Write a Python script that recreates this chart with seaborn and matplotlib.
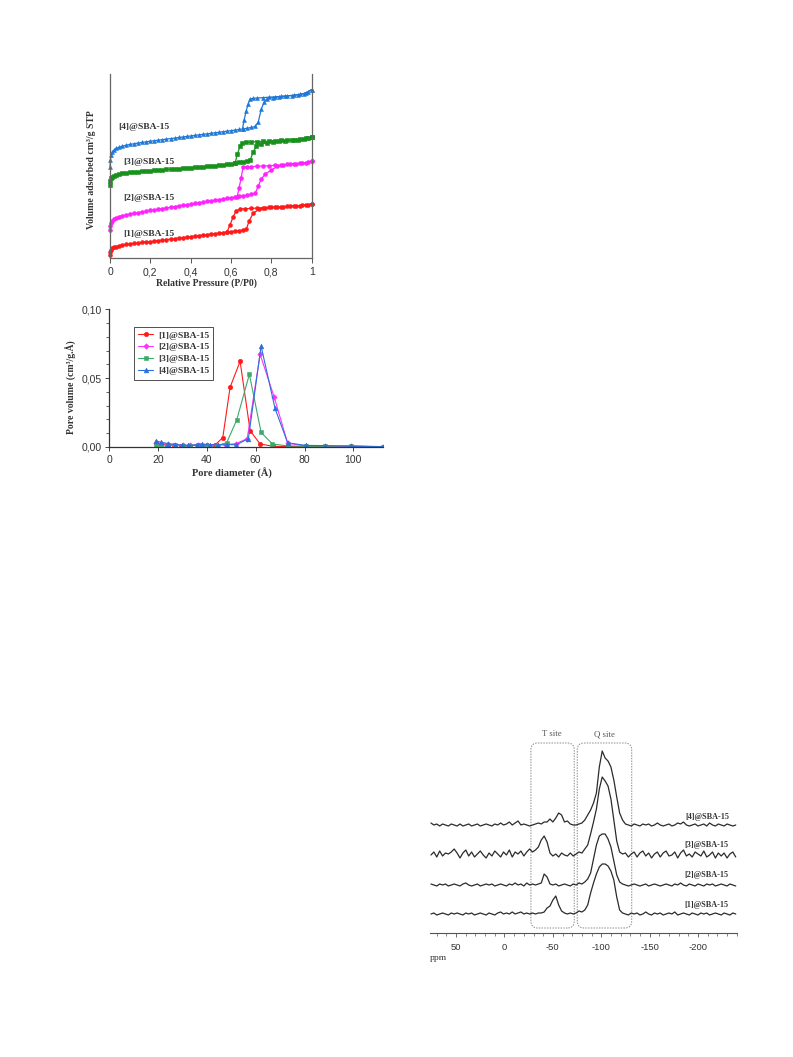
import numpy as np
import pandas as pd
import matplotlib
matplotlib.use("Agg")
import matplotlib.pyplot as plt
import seaborn as sns
from matplotlib.patches import FancyBboxPatch
from matplotlib.ticker import MultipleLocator

# ── Isotherms (N2 adsorption / desorption), volume in arbitrary stacked units ──
p_low = [0.0, 0.002, 0.006, 0.012, 0.02, 0.03, 0.045, 0.06, 0.08, 0.10, 0.12, 0.14,
         0.16, 0.18, 0.20, 0.22, 0.24, 0.26, 0.28, 0.30, 0.32, 0.34, 0.36, 0.38,
         0.40, 0.42, 0.44, 0.46, 0.48, 0.50, 0.52, 0.54, 0.56, 0.58, 0.60, 0.62,
         0.64, 0.66]

v1_low = [3, 6, 8, 9.5, 10.5, 11.3, 12.2, 12.8, 13.5, 14, 14.5, 15, 15.5, 16, 16.4,
          16.9, 17.4, 17.9, 18.4, 18.9, 19.4, 19.9, 20.4, 20.9, 21.4, 21.9, 22.4,
          22.9, 23.4, 23.9, 24.4, 24.9, 25.4, 25.9, 26.4, 26.9, 27.4, 27.9]
p1_hi = [0.675, 0.69, 0.71, 0.74, 0.77, 0.80, 0.83, 0.86, 0.89, 0.92, 0.95, 0.98, 1.0]
v1_hi = [28.6, 37, 45, 48.5, 50, 50.6, 51, 51.4, 51.8, 52.2, 52.6, 53.2, 54]
p1_des = [1.0, 0.97, 0.94, 0.91, 0.88, 0.85, 0.82, 0.79, 0.76, 0.73, 0.70, 0.67,
          0.645, 0.625, 0.61, 0.595, 0.58]
v1_des = [54, 52.8, 52.3, 51.9, 51.5, 51.1, 50.8, 50.5, 50.2, 49.9, 49.6, 49.3,
          49.0, 47, 41, 33, 26]

v2_low = [28, 32, 35, 37, 38.7, 40, 41.3, 42.2, 43.2, 44, 44.7, 45.4, 46.1, 46.8,
          47.5, 48.1, 48.8, 49.4, 50.1, 50.7, 51.3, 52.0, 52.6, 53.3, 53.9, 54.5,
          55.2, 55.8, 56.5, 57.1, 57.7, 58.4, 59.0, 59.7, 60.3, 60.9, 61.6, 62.2]
p2_hi = [0.68, 0.70, 0.72, 0.735, 0.75, 0.77, 0.80, 0.83, 0.86, 0.89, 0.92, 0.95, 0.98, 1.0]
v2_hi = [62.9, 63.5, 64.5, 72, 79, 84, 88, 91.5, 93, 93.6, 94.2, 94.8, 95.6, 96.5]
p2_des = [1.0, 0.97, 0.94, 0.91, 0.88, 0.85, 0.82, 0.79, 0.76, 0.73, 0.70, 0.68,
          0.66, 0.65, 0.64, 0.63]
v2_des = [96.5, 95.2, 94.6, 94.0, 93.5, 93.0, 92.6, 92.3, 92.0, 91.7, 91.4, 91.2,
          90.8, 80, 70, 61]

v3_low = [73, 77, 79.5, 81, 82.2, 83, 84, 84.6, 85.2, 85.7, 86.1, 86.4, 86.7, 87.0,
          87.3, 87.6, 87.9, 88.2, 88.5, 88.8, 89.1, 89.4, 89.7, 90.0, 90.3, 90.6,
          90.9, 91.2, 91.6, 92.0, 92.4, 92.8, 93.2, 93.7, 94.2, 94.8, 95.5, 96.2]
p3_hi = [0.68, 0.695, 0.71, 0.725, 0.75, 0.78, 0.81, 0.84, 0.87, 0.90, 0.93, 0.96, 0.98, 1.0]
v3_hi = [97.0, 98, 106, 111.5, 114, 115, 115.8, 116.5, 117.1, 117.7, 118.3, 119, 119.8, 121]
p3_des = [1.0, 0.97, 0.94, 0.91, 0.88, 0.85, 0.82, 0.79, 0.76, 0.73, 0.70, 0.675,
          0.655, 0.645, 0.632, 0.62]
v3_des = [121, 119.5, 118.9, 118.4, 118.0, 117.6, 117.2, 116.9, 116.6, 116.3, 116.0,
          115.7, 115.3, 112, 104, 95]

v4_low = [91.3, 98, 103, 106, 108, 109.5, 110.8, 111.8, 112.8, 113.6, 114.3, 115.0,
          115.6, 116.2, 116.8, 117.3, 117.8, 118.4, 118.9, 119.4, 119.9, 120.5, 121.0,
          121.5, 122.0, 122.6, 123.1, 123.6, 124.1, 124.7, 125.2, 125.7, 126.3, 126.8,
          127.4, 127.9, 128.5, 129.1]
p4_hi = [0.68, 0.70, 0.72, 0.735, 0.75, 0.765, 0.78, 0.81, 0.84, 0.87, 0.90, 0.93,
         0.96, 0.98, 1.0]
v4_hi = [129.8, 130.5, 131.5, 136, 149, 156, 159.5, 160.5, 161.2, 161.8, 162.4, 163.1,
         164.2, 165.8, 168.5]
p4_des = [1.0, 0.97, 0.94, 0.91, 0.88, 0.85, 0.82, 0.79, 0.76, 0.73, 0.71, 0.695,
          0.685, 0.675, 0.665, 0.657]
v4_des = [168.5, 165, 163.6, 162.8, 162.2, 161.7, 161.2, 160.8, 160.4, 160.0, 159.6,
          159.2, 154, 147, 138, 129.3]

sample_names = ["[1]@SBA-15", "[2]@SBA-15", "[3]@SBA-15", "[4]@SBA-15"]

# ── Pore size distribution ──
d1 = [19, 21, 23.5, 26.5, 29.5, 33, 36.5, 40, 43.5, 46.5, 49.5, 53.6, 57.7, 61.8,
      67.2, 73.5, 80.5, 88.5, 99, 112]
pv1 = [0.0030, 0.0022, 0.0018, 0.0012, 0.0010, 0.0008, 0.0015, 0.0015, 0.0018, 0.0068,
       0.0434, 0.0622, 0.0119, 0.0022, 0.0005, 0.0003, 0.0003, 0.0002, 0.0002, 0.0001]
d2 = [19, 21, 24, 27, 30, 33, 36.5, 40, 44, 48, 52, 56.5, 61.8, 67.6, 73.1, 80.5, 88.5,
      99, 112]
pv2 = [0.0030, 0.0025, 0.0020, 0.0015, 0.0012, 0.0012, 0.0018, 0.0015, 0.0015, 0.0018,
       0.0025, 0.0060, 0.0673, 0.0361, 0.0027, 0.0008, 0.0008, 0.0005, 0.0002]
d3 = [19, 21, 24, 27, 30, 33, 36.5, 40, 44, 48.1, 52.2, 57.4, 62.2, 66.8, 73.1, 80.5,
      88.5, 99, 112]
pv3 = [0.0015, 0.0005, 0.0010, 0.0012, 0.0010, 0.0010, 0.0012, 0.0008, 0.0010, 0.0031,
       0.0196, 0.0528, 0.0107, 0.0022, 0.0008, 0.0005, 0.0005, 0.0010, 0.0002]
d4 = [19, 21, 24, 27, 29.7, 32.4, 35.8, 38, 41.3, 44.7, 48.1, 52, 57, 62.2, 67.9, 73.1,
      80.5, 88.5, 99, 112]
pv4 = [0.0045, 0.0035, 0.0025, 0.0018, 0.0015, 0.0012, 0.0015, 0.0022, 0.0015, 0.0015,
       0.0018, 0.0016, 0.0060, 0.0733, 0.0281, 0.0030, 0.0012, 0.0010, 0.0005, 0.0002]

# ── 29Si NMR spectra (intensity above each baseline) ──
ppm = list(range(76, -240, -3))
nmr1 = [0, 1, -1, 0, 1, 0, -1, 1, 0, 1,
        0, -1, 1, 0, 1, -1, 0, 1, 0, -1,
        1, 0, -1, 1, 2, 0, 1, 0, 2, 0,
        1, 2, 0, 1, 0, 1, 0, 1, 1, 2,
        6, 8, 14, 18, 9, 3, 1, 0, 1, 0,
        1, 3, 2, 4, 9, 21, 31, 40, 47, 50,
        50, 48, 43, 34, 17, 4, 1, 0, -1, 1,
        0, 1, -1, 0, 2, 0, -1, 1, 0, 1,
        -1, 0, 1, 0, 2, -1, 0, 1, 0, -1,
        1, 0, -1, 1, 0, 1, -1, 0, 1, 0,
        -1, 1, 0, -1, 1, 0]
nmr2 = [1, 0, -1, 1, 0, 1, -1, 0, 1, 0,
        -1, 1, 2, 0, -1, 0, 1, -1, 0, 1,
        0, 1, -1, 0, 1, 0, -1, 1, 0, 2,
        0, 1, -1, 2, 0, 1, 0, 1, 2, 11,
        8, 1, 0, 1, -1, 0, 1, 0, -1, 1,
        0, 2, 1, 3, 6, 12, 26, 40, 49, 51,
        51, 46, 38, 24, 10, 3, 1, 0, -1, 0,
        1, 0, -1, 0, 1, -1, 0, 1, 0, -1,
        0, 1, 0, -1, 1, 0, 2, 0, -1, 1,
        0, -1, 1, 0, -1, 1, 0, 1, -1, 0,
        1, 0, -1, 1, 0, -1]
nmr3 = [0, 3, -2, 4, -1, 2, 1, 3, 6, 2,
        -3, 2, 5, -1, 3, -2, 1, 4, 0, -3,
        2, -1, 4, 1, -2, 3, 0, 5, -2, 3,
        1, 4, -1, 3, 6, 3, 5, 8, 15, 19,
        13, 2, -1, 1, -2, 2, 0, -1, 2, -1,
        1, 3, 2, 6, 10, 21, 33, 46, 66, 78,
        74, 69, 56, 35, 14, 3, 1, 2, -2, 1,
        3, -2, 2, 4, -1, 2, -3, 1, 3, -2,
        2, 4, -1, 0, 3, -3, 2, 5, -1, 1,
        -2, 3, 1, -1, 4, -2, 0, 3, -3, 2,
        -1, 2, -3, 1, 3, -2]
nmr4 = [2, 0, 1, -1, 1, 0, -1, 1, 0, -1,
        1, -1, 0, 1, -1, 0, 1, -1, 0, 1,
        0, -1, 1, 0, 2, 0, 1, 3, 0, 2,
        4, 0, 1, 0, -1, 0, 1, 2, 1, 3,
        3, 6, 3, 7, 12, 10, 3, 4, 1, 0,
        0, 1, 2, 5, 10, 15, 22, 32, 58, 74,
        67, 64, 58, 45, 28, 12, 5, 1, 0, -1,
        1, 0, -1, 1, 0, 1, -1, 0, 2, 0,
        -1, 0, 1, -1, 0, 2, 1, 3, 0, -1,
        0, 1, -1, 0, 1, -1, 2, 0, -1, 1,
        0, -1, 1, 0, -1, 0]
nmr_base = [19, 48, 78, 108]

# ── Figure ────────────────────────────────────────────────────────────────────
sns.set_style("white")
plt.rcParams['font.family'] = ['Liberation Serif', 'DejaVu Serif']
SANS = 'Liberation Sans'
W, H = 793, 1057


def box(l, t, r, b):
    return [l / W, 1 - b / H, (r - l) / W, (b - t) / H]


fig = plt.figure(figsize=(W / 100, H / 100), dpi=100)

# ── 1) Isotherms ──────────────────────────────────────────────────────────────
ax1 = fig.add_axes(box(110, 74, 311.7, 258))
iso_colors = ['#ff1a1a', '#ff22ff', '#17901c', '#1f78d6']
iso_markers = ['o', 'o', 's', '^']
iso = [
    (p_low + p1_hi, v1_low + v1_hi, p1_des, v1_des),
    (p_low + p2_hi, v2_low + v2_hi, p2_des, v2_des),
    (p_low + p3_hi, v3_low + v3_hi, p3_des, v3_des),
    (p_low + p4_hi, v4_low + v4_hi, p4_des, v4_des),
]
for (pa, va, pd_, vd), c, m in zip(iso, iso_colors, iso_markers):
    for xx, yy in [(pa, va), (pd_, vd)]:
        sns.lineplot(x=xx, y=yy, ax=ax1, color=c, marker=m, markersize=2.8,
                     markeredgecolor=c, markeredgewidth=0.4, linewidth=0.9,
                     estimator=None, sort=False, clip_on=False)
ax1.set_xlim(0, 1)
ax1.set_ylim(0, 184)
ax1.set_xticks([0, 0.2, 0.4, 0.6, 0.8, 1.0])
ax1.set_xticklabels(["0", "0,2", "0,4", "0,6", "0,8", "1"])
ax1.set_yticks([])
ax1.set_xlabel("")
ax1.set_ylabel("")
ax1.tick_params(axis='x', direction='out', length=3.5, width=0.7, pad=3,
                labelsize=7.5, labelfontfamily=SANS, labelcolor='#333333',
                color='#555555', bottom=True)
ax1.spines['top'].set_visible(False)
for s in ['left', 'bottom', 'right']:
    ax1.spines[s].set_color('#666666')
    ax1.spines[s].set_linewidth(0.9)

iso_label_pos = [(0.064, 24), (0.064, 60.3), (0.064, 96.3), (0.04, 131)]
for (lx, ly), name in zip(iso_label_pos, sample_names):
    ax1.text(lx, ly, name, fontsize=6.8, fontweight='bold', color='#333333',
             ha='left', va='center')

fig.text(206.7 / W, 1 - 283 / H, "Relative Pressure (P/P0)", fontsize=7,
         fontweight='bold', color='#333333', ha='center', va='center')
fig.text(92 / W, 1 - 170 / H, "Volume adsorbed cm³/g STP", fontsize=7,
         fontweight='bold', color='#333333', ha='center', va='center', rotation=90)

# ── 2) Pore size distribution ─────────────────────────────────────────────────
ax2 = fig.add_axes(box(109.3, 309.3, 382.6, 447))
psd_colors = ['#ff1a1a', '#ff33ff', '#3ea86b', '#2b6fdc']
psd_markers = ['o', 'D', 's', '^']
psd_sizes = [3.2, 2.8, 3.0, 3.4]
psd = [(d1, pv1), (d2, pv2), (d3, pv3), (d4, pv4)]
for (xx, yy), c, m, ms, name in zip(psd, psd_colors, psd_markers, psd_sizes, sample_names):
    sns.lineplot(x=xx, y=yy, ax=ax2, color=c, marker=m, markersize=ms,
                 markeredgecolor=c, markeredgewidth=0.4, linewidth=0.8,
                 estimator=None, sort=False, label=name)
ax2.set_xlim(0, 112)
ax2.set_ylim(0, 0.10)
ax2.set_xticks([0, 20, 40, 60, 80, 100])
ax2.set_yticks([0, 0.05, 0.10])
ax2.set_yticklabels(["0,00", "0,05", "0,10"])
ax2.yaxis.set_minor_locator(MultipleLocator(0.01))
ax2.set_xlabel("")
ax2.set_ylabel("")
ax2.tick_params(axis='both', which='major', direction='out', length=3, width=0.7,
                pad=2.5, labelsize=7.5, labelfontfamily=SANS, labelcolor='#333333',
                color='#444444', bottom=True, left=True)
ax2.tick_params(axis='y', which='minor', direction='out', length=2, width=0.6,
                color='#444444', left=True)
ax2.spines['top'].set_visible(False)
ax2.spines['right'].set_visible(False)
for s in ['left', 'bottom']:
    ax2.spines[s].set_color('#333333')
    ax2.spines[s].set_linewidth(0.9)

leg = ax2.legend(loc='upper left', bbox_to_anchor=(0.09, 0.874),
                 prop=dict(size=6.8, weight='bold'), frameon=True, fancybox=False,
                 edgecolor='#333333', framealpha=1, handlelength=1.6,
                 labelspacing=0.35, borderpad=0.45, handletextpad=0.5,
                 borderaxespad=0)
leg.get_frame().set_linewidth(0.6)
for t in leg.get_texts():
    t.set_color('#333333')

fig.text(231.7 / W, 1 - 473.3 / H, "Pore diameter (Å)", fontsize=7.5,
         fontweight='bold', color='#333333', ha='center', va='center')
fig.text(71.7 / W, 1 - 386.7 / H, "Pore volume (cm³/g.Å)", fontsize=7,
         fontweight='bold', color='#333333', ha='center', va='center', rotation=90)

# ── 3) 29Si MAS NMR ───────────────────────────────────────────────────────────
ax3 = fig.add_axes(box(430, 725, 736.7, 933))
for spec, base in zip([nmr1, nmr2, nmr3, nmr4], nmr_base):
    sns.lineplot(x=ppm, y=[base + v for v in spec], ax=ax3, color='#2b2b2b',
                 linewidth=0.9, estimator=None, sort=False)
ax3.set_xlim(77, -240)
ax3.set_ylim(0, 208)
ax3.set_xticks([50, 0, -50, -100, -150, -200])
ax3.set_xticklabels(["50", "0", "-50", "-100", "-150", "-200"])
ax3.xaxis.set_minor_locator(MultipleLocator(10))
ax3.set_yticks([])
ax3.set_xlabel("")
ax3.set_ylabel("")
ax3.tick_params(axis='x', which='major', direction='out', length=3, width=0.6,
                pad=4, labelsize=6.8, labelfontfamily=SANS, labelcolor='#333333',
                color='#555555', bottom=True)
ax3.tick_params(axis='x', which='minor', direction='out', length=2, width=0.5,
                color='#555555', bottom=True)
for s in ['top', 'left', 'right']:
    ax3.spines[s].set_visible(False)
ax3.spines['bottom'].set_color('#555555')
ax3.spines['bottom'].set_linewidth(0.8)

site_boxes = [(-72.1, -27.3, "T site", -49.3), (-131.5, -75.2, "Q site", -103.6)]
for x0, x1, lab, lx in site_boxes:
    ax3.add_patch(FancyBboxPatch((x0, 5), x1 - x0, 185,
                                 boxstyle="round,pad=0,rounding_size=7",
                                 fill=False, ec='#8a8a8a', lw=0.7,
                                 ls=(0, (1.5, 1.3)), clip_on=False))
    ax3.text(lx, 199, lab, fontsize=6.3, color='#555555', ha='center', va='center')

nmr_label_y = [28, 58, 88, 115.7]
for ly, name in zip(nmr_label_y, sample_names):
    ax3.text(-232, ly, name, fontsize=5.9, fontweight='bold', color='#333333',
             ha='right', va='center')
ax3.text(77, -25, "ppm", fontsize=6.8, color='#333333', ha='left', va='center',
         clip_on=False)

fig.savefig("out.png", dpi=100)
